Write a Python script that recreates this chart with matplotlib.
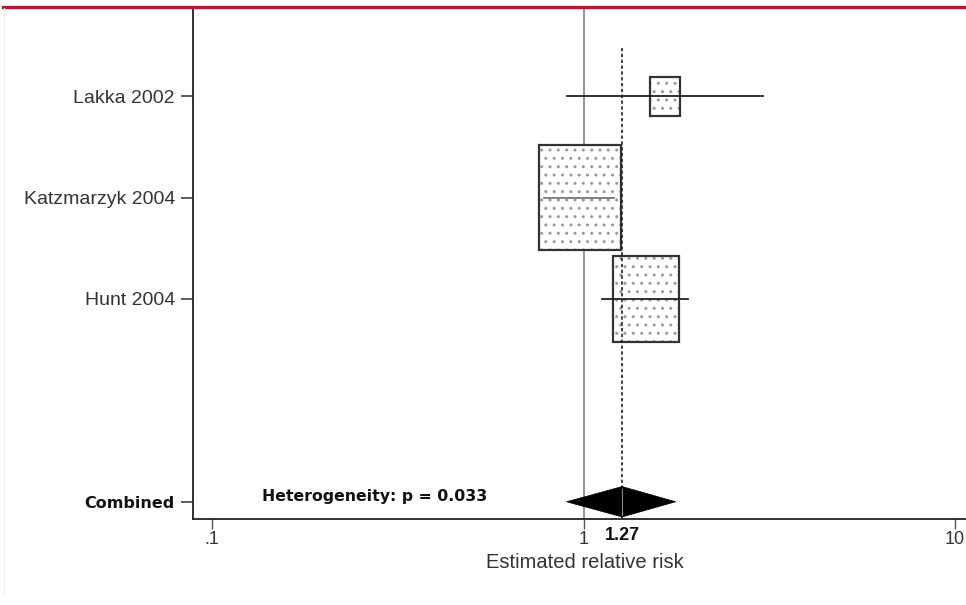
import numpy as np
import matplotlib
matplotlib.use("Agg")
import matplotlib.pyplot as plt
from matplotlib.patches import Rectangle, Polygon
from matplotlib.lines import Line2D

# ---- data ----
studies = ["Lakka 2002", "Katzmarzyk 2004", "Hunt 2004"]
rr = [1.66, 0.98, 1.47]
ci_low = [0.90, 0.785, 1.12]
ci_high = [3.05, 1.21, 1.905]
weights = [7.5, 56.1, 36.4]
pooled_label = "Combined"
pooled_rr = 1.27
pooled_low = 0.90
pooled_high = 1.77
heterogeneity_text = "Heterogeneity: p = 0.033"
xticks = [0.1, 1, 10]
xticklabels = [".1", "1", "10"]
xlabel = "Estimated relative risk"

W, H, DPI = 9.66, 6.05, 100
fig = plt.figure(figsize=(W, H), dpi=DPI)
plt.rcParams['font.family'] = ['Liberation Sans', 'DejaVu Sans']

ax_left, ax_bottom = 193 / 966, 1 - 519 / 605
ax_w, ax_h = 1 - ax_left, (519 - 9) / 605
ax = fig.add_axes([ax_left, ax_bottom, ax_w, ax_h])
ax.set_xscale("log")
ax.set_xlim(0.0889, 10.7)
ylo, yhi = 5.17, 0.14
ax.set_ylim(ylo, yhi)

for s in ["top", "right"]:
    ax.spines[s].set_visible(False)
for s in ["left", "bottom"]:
    ax.spines[s].set_color("#222222")
    ax.spines[s].set_linewidth(1.3)

# pixel conversions
ax_px_w = ax_w * W * DPI
decades = np.log10(10.7) - np.log10(0.0889)
px_per_decade = ax_px_w / decades
ax_px_h = ax_h * H * DPI
px_per_row = ax_px_h / (ylo - yhi)

rows = [1, 2, 3]
pooled_row = 5

# reference line at 1
ax.axvline(1, color="#777777", lw=1.1, zorder=1)
# pooled estimate dashed line
ax.plot([pooled_rr, pooled_rr], [0.52, ylo], color="#222222", lw=1.2,
        linestyle=(0, (2.0, 1.5)), zorder=4)

k = 10.95  # px per sqrt(weight)
for y, est, lo, hi, w in zip(rows, rr, ci_low, ci_high, weights):
    bw = k * np.sqrt(w)
    bh = bw * 1.29
    hw_dec = bw / 2 / px_per_decade
    left = est * 10 ** (-hw_dec)
    right = est * 10 ** (hw_dec)
    hh = bh / 2 / px_per_row
    fill = Rectangle((left, y - hh), right - left, 2 * hh, facecolor="white",
                     edgecolor="#9a9a9a", hatch="..", lw=0, zorder=2)
    ax.add_patch(fill)
    outline = Rectangle((left, y - hh), right - left, 2 * hh, fill=False,
                        edgecolor="#333333", lw=1.6, zorder=3)
    ax.add_patch(outline)
    ax.plot([lo, hi], [y, y], color="#222222" if w < 50 else "#777777",
            lw=1.3, zorder=3)

# pooled diamond
dh = 0.15
diamond = Polygon([[pooled_low, pooled_row], [pooled_rr, pooled_row - dh],
                   [pooled_high, pooled_row], [pooled_rr, pooled_row + dh]],
                  closed=True, facecolor="black", edgecolor="black", lw=0.5, zorder=5)
ax.add_patch(diamond)
ax.plot([pooled_rr, pooled_rr], [pooled_row - dh + 0.02, pooled_row + dh - 0.02],
        color="#888888", lw=0.8, zorder=6)

# ticks
ax.set_yticks(rows + [pooled_row])
ax.set_yticklabels(studies + [pooled_label])
ax.tick_params(axis="y", length=9, width=1.1, color="#333333", pad=4,
               labelsize=14, labelcolor="#333333")
ylabels = ax.get_yticklabels()
ylabels[-1].set_fontweight("bold")
ylabels[-1].set_fontsize(11.5)
ylabels[-1].set_family(["DejaVu Sans"])
ylabels[-1].set_color("#111111")

ax.set_xticks(xticks)
ax.set_xticklabels(xticklabels)
ax.xaxis.set_minor_locator(matplotlib.ticker.NullLocator())
ax.tick_params(axis="x", length=7, width=1.0, color="#555555", pad=2,
               labelsize=13, labelcolor="#333333")

ax.text(pooled_rr, -0.016, f"{pooled_rr:.2f}", transform=ax.get_xaxis_transform(),
        ha="center", va="top", fontsize=13, fontweight="bold", color="#111111")

ax.text(0.136, pooled_row - 0.05, heterogeneity_text, ha="left", va="center",
        fontsize=11.3, fontweight="bold", family=["DejaVu Sans"], color="#111111")

ax.set_xlabel(xlabel, fontsize=14.5, color="#333333")
ax.xaxis.set_label_coords((585 - 193) / 966 / ax_w, -(563 - 519) / ax_px_h)
ax.xaxis.label.set_va("center")

# red rule at top
fig.add_artist(Line2D([3 / 966, 1], [1 - 7 / 605, 1 - 7 / 605], color="#c8102e",
                      lw=2.4, transform=fig.transFigure))
fig.add_artist(Line2D([4 / 966, 4 / 966], [1 - 8 / 605, 0.02], color="#eeeeee",
                      lw=0.8, transform=fig.transFigure))

fig.savefig("out.png", dpi=DPI)
